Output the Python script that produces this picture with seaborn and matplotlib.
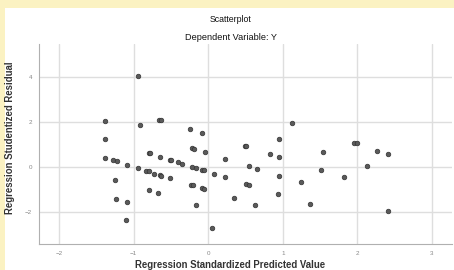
# Residual plot: studentized residual vs standardized predicted value
import numpy as np
import pandas as pd
import matplotlib
matplotlib.use('Agg')
import matplotlib.pyplot as plt
import seaborn as sns

pred = [-0.945, -1.378, -0.654, -0.64, -0.914, -1.39, -0.248, -0.087, -0.22, -0.19,
        -0.043, -1.378, -1.276, -1.23, -1.088, -0.945, -0.80, -0.78, -0.646, -0.512,
        -0.50, -0.40, -0.355, -0.22, -0.168, -0.078, -0.056, -0.83, -0.80, -0.73,
        -0.65, -0.63, -0.512, -1.25, -0.225, -0.20, -0.087, -0.056, -0.80, -0.67,
        -1.236, -1.088, -0.17, -1.106, 0.056, 0.083, 0.225, 0.225, 0.34, 0.49,
        0.51, 0.543, 0.654, 0.51, 0.543, 0.627, 0.83, 0.945, 0.95, 0.945,
        0.936, 1.128, 1.544, 1.517, 1.244, 1.37, 1.96, 1.99, 1.816, 2.13,
        2.27, 2.415, 2.415]
resid = [4.03, 2.03, 2.09, 2.07, 1.85, 1.22, 1.68, 1.50, 0.82, 0.80,
         0.64, 0.37, 0.30, 0.24, 0.08, -0.06, 0.59, 0.59, 0.43, 0.30,
         0.29, 0.19, 0.13, 0.0, -0.04, -0.13, -0.16, -0.19, -0.21, -0.31,
         -0.38, -0.39, -0.52, -0.58, -0.81, -0.81, -0.96, -0.99, -1.02, -1.17,
         -1.42, -1.55, -1.70, -2.35, -2.72, -0.31, 0.36, -0.44, -1.38, 0.92,
         0.90, 0.03, -0.09, -0.76, -0.80, -1.70, 0.55, 1.23, 0.42, -0.40,
         -1.23, 1.93, 0.64, -0.15, -0.69, -1.67, 1.04, 1.04, -0.47, 0.03,
         0.71, 0.56, -1.96]
xticks = [-2, -1, 0, 1, 2, 3]
yticks = [-2, 0, 2, 4]

df = pd.DataFrame({'pred': pred, 'resid': resid})

sns.set_style('white')
plt.rcParams['font.family'] = ['Liberation Sans', 'DejaVu Sans']

fig = plt.figure(figsize=(4.54, 2.70), dpi=100, facecolor='#fbf2c2')
# white chart panel over the yellow page
fig.patches.append(plt.Rectangle((5 / 454, 0), 1, 1 - 8 / 270, transform=fig.transFigure,
                                 facecolor='white', edgecolor='none', zorder=-5))
ax = fig.add_axes([39 / 454, 1 - 244 / 270, 413 / 454, 200 / 270])
ax.set_facecolor('white')

sns.scatterplot(data=df, x='pred', y='resid', ax=ax, s=11, color='#5a5a5a',
                edgecolor='#333333', linewidth=0.5, zorder=3)

ax.set_xlim(-2.27, 3.27)
ax.set_ylim(-3.43, 5.45)
ax.set_xticks(xticks)
ax.set_yticks(yticks)
ax.grid(True, color='#dedede', linewidth=1.0)
ax.set_axisbelow(True)
for side in ['top', 'right']:
    ax.spines[side].set_visible(False)
for side in ['left', 'bottom']:
    ax.spines[side].set_color('#b0b0b0')
    ax.spines[side].set_linewidth(0.8)
ax.tick_params(axis='both', length=0, labelsize=4.5, labelcolor='#888888', pad=5)

ax.set_xlabel('Regression Standardized Predicted Value', fontsize=6.9,
              fontweight='bold', color='#333333', va='center')
ax.set_ylabel('Regression Studentized Residual', fontsize=6.9,
              fontweight='bold', color='#333333', va='center')
ax.xaxis.set_label_coords((230 - 39) / 413, (244 - 265) / 200)
ax.yaxis.set_label_coords((10 - 39) / 413, (244 - 138) / 200)

fig.text(231 / 454, 1 - 20 / 270, 'Scatterplot', ha='center', va='center',
         fontsize=6.3, color='#111111')
fig.text(231 / 454, 1 - 37 / 270, 'Dependent Variable: Y', ha='center', va='center',
         fontsize=6.6, color='#111111')

fig.savefig('out.png', dpi=100, facecolor=fig.get_facecolor())
